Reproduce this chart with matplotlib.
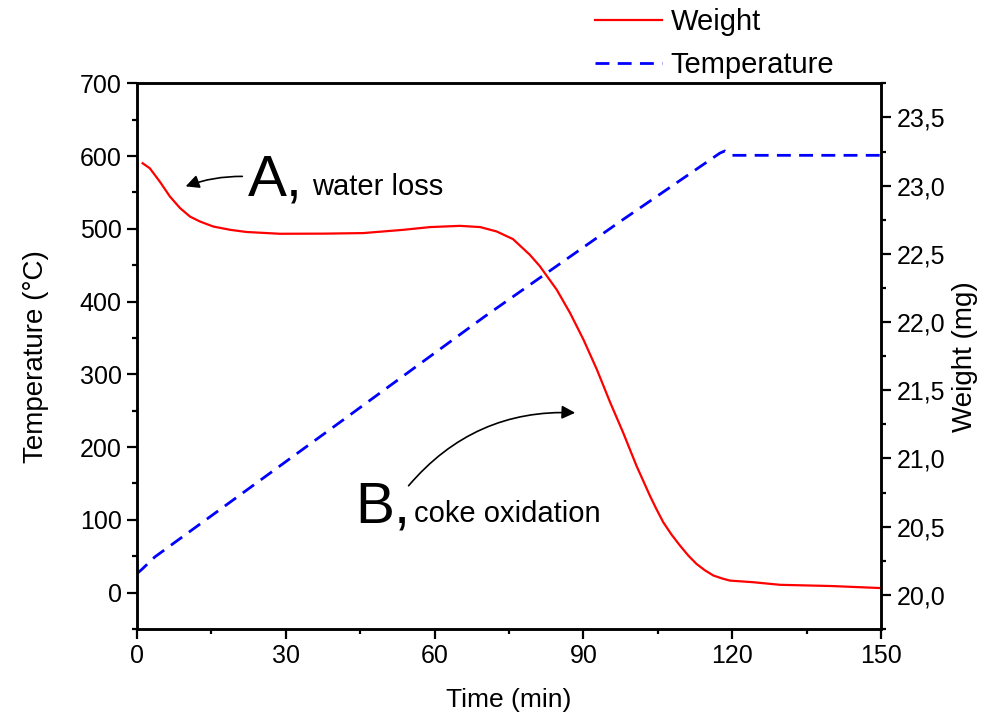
import matplotlib
matplotlib.use("Agg")
import matplotlib.pyplot as plt
from matplotlib.ticker import MultipleLocator, FixedLocator, FixedFormatter

plt.rcParams['font.family'] = ['Liberation Sans', 'DejaVu Sans']

# Temperature (left axis, °C) vs time (min)
temp_time = [0, 1, 3.6, 41.5, 70, 97.4, 117.5, 118.5, 120, 150]
temp_vals = [26, 32, 49, 237, 379, 510, 604, 607, 601, 601]

# Weight (right axis, mg) vs time (min)
weight_time = [1.15, 2.6, 4.6, 6.65, 8.7, 10.7, 12.7, 15.4, 18.8, 22.1, 28.8, 37.6,
               45.6, 53.7, 59.1, 65.1, 69.2, 72.5, 75.8, 79.2, 81.2, 84.6, 87.3, 90.0,
               92.7, 95.4, 98.0, 100.7, 103.4, 104.7, 106.1, 107.8, 109.5, 111.1,
               112.8, 114.5, 116.2, 118.0, 119.5, 124.2, 129.6, 140.0, 150.0]
weight_vals = [23.164, 23.127, 23.03, 22.92, 22.835, 22.773, 22.737, 22.70, 22.676,
               22.66, 22.647, 22.648, 22.652, 22.676, 22.696, 22.705, 22.696, 22.664,
               22.608, 22.493, 22.41, 22.238, 22.067, 21.872, 21.653, 21.41, 21.19,
               20.946, 20.727, 20.63, 20.532, 20.44, 20.36, 20.29, 20.227, 20.18,
               20.142, 20.12, 20.105, 20.093, 20.074, 20.065, 20.05]

x_ticks = [0, 30, 60, 90, 120, 150]
left_ticks = [0, 100, 200, 300, 400, 500, 600, 700]
right_ticks = [20.0, 20.5, 21.0, 21.5, 22.0, 22.5, 23.0, 23.5]
right_labels = ['20,0', '20,5', '21,0', '21,5', '22,0', '22,5', '23,0', '23,5']

fig = plt.figure(figsize=(9.85, 7.23), dpi=100)
ax = fig.add_axes([0.139, 0.130, 0.7555, 0.7548])
ax2 = ax.twinx()

l_temp, = ax.plot(temp_time, temp_vals, color='#0000ff', lw=2.0, dashes=(5, 3))
l_w, = ax2.plot(weight_time, weight_vals, color='#ff0000', lw=1.6)

ax.set_xlim(0, 150)
ax.set_ylim(-50, 700)
ax2.set_ylim(19.75, 23.75)

ax.xaxis.set_major_locator(FixedLocator(x_ticks))
ax.xaxis.set_minor_locator(MultipleLocator(15))
ax.yaxis.set_major_locator(FixedLocator(left_ticks))
ax.yaxis.set_minor_locator(MultipleLocator(50))
ax2.yaxis.set_major_locator(FixedLocator(right_ticks))
ax2.yaxis.set_major_formatter(FixedFormatter(right_labels))
ax2.yaxis.set_minor_locator(MultipleLocator(0.25))

fs = 18
for a in (ax, ax2):
    a.tick_params(which='major', direction='out', length=7, width=1.6,
                  labelsize=fs, pad=4)
    a.tick_params(which='minor', direction='out', length=3.6, width=1.6)
    for s in a.spines.values():
        s.set_linewidth(1.8)
ax.tick_params(axis='y', which='both', right=False)
ax.tick_params(axis='x', which='both', top=False)

lfs = 20
ax.set_xlabel('Time (min)', fontsize=19, labelpad=14)
ax.set_ylabel('Temperature (\u00b0C)', fontsize=lfs, labelpad=22)
ax2.set_ylabel('Weight (mg)', fontsize=lfs, labelpad=5)

# Annotations
ax.annotate('', xy=(9.3, 557), xytext=(21.8, 572),
            arrowprops=dict(arrowstyle='-|>', color='black', lw=1.2,
                            mutation_scale=20, connectionstyle='arc3,rad=0.1'))
ax.text(22.4, 546, 'A,', fontsize=42, va='baseline', ha='left')
ax.text(35.3, 546, 'water loss', fontsize=21, va='baseline', ha='left')

ax.annotate('', xy=(88.9, 247), xytext=(54.4, 144),
            arrowprops=dict(arrowstyle='-|>', color='black', lw=1.2,
                            mutation_scale=20, connectionstyle='arc3,rad=-0.25'))
ax.text(44.0, 97, 'B,', fontsize=42, va='baseline', ha='left')
ax.text(55.8, 97, 'coke oxidation', fontsize=21, va='baseline', ha='left')

fig.legend([l_w, l_temp], ['Weight', 'Temperature'], loc='upper left',
           bbox_to_anchor=(0.577, 1.025), frameon=False, fontsize=21,
           handlelength=2.3, handletextpad=0.3, labelspacing=0.5)

fig.savefig('out.png', dpi=100)
